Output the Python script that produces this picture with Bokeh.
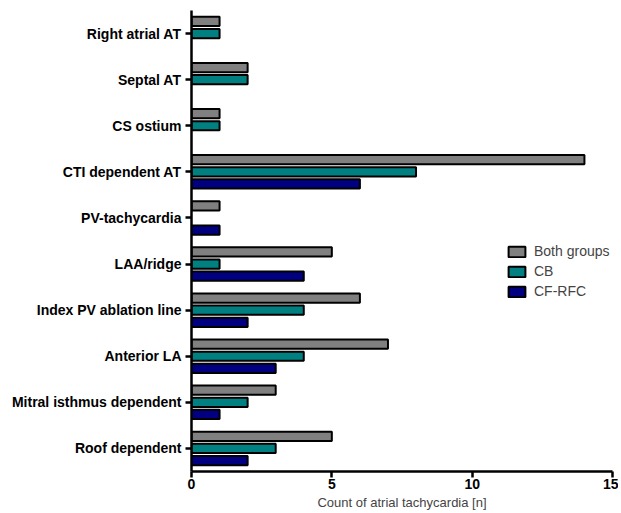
from bokeh.plotting import figure
from bokeh.models import ColumnDataSource, FactorRange, Legend, LegendItem
from bokeh.transform import dodge
from bokeh.embed import file_html
from bokeh.resources import INLINE

categories = ["Right atrial AT", "Septal AT", "CS ostium", "CTI dependent AT", "PV-tachycardia",
              "LAA/ridge", "Index PV ablation line", "Anterior LA", "Mitral isthmus dependent", "Roof dependent"]
both_groups = [1, 2, 1, 14, 1, 5, 6, 7, 3, 5]
cb = [1, 2, 1, 8, 0, 1, 4, 4, 2, 3]
cf_rfc = [0, 0, 0, 6, 1, 4, 2, 3, 1, 2]
series_names = ["Both groups", "CB", "CF-RFC"]
colors = ["#808080", "#008080", "#000080"]
x_ticks = [0, 5, 10, 15]

FONT = "Liberation Sans"

p = figure(width=618, height=512, y_range=FactorRange(*reversed(categories)),
           x_range=(0, 15), output_backend="svg", toolbar_location=None,
           min_border_left=191, min_border_right=6, min_border_top=10, min_border_bottom=40)
p.y_range.range_padding = 0
p.outline_line_color = None
p.grid.grid_line_color = None

offsets = [0.263, 0.0, -0.263]
renderers = []
for name, vals, col, off in zip(series_names, [both_groups, cb, cf_rfc], colors, offsets):
    cats = [c for c, v in zip(categories, vals) if v > 0]
    vs = [v for v in vals if v > 0]
    src = ColumnDataSource(dict(cat=cats, val=vs))
    r = p.hbar(y=dodge("cat", off, range=p.y_range), right="val", left=0, height=0.2,
               source=src, fill_color=col, line_color="black", line_width=2)
    renderers.append(r)

legend = Legend(items=[LegendItem(label=n, renderers=[r]) for n, r in zip(series_names, renderers)],
                location=(315, 172), background_fill_alpha=0, border_line_color=None,
                label_text_font=FONT, label_text_font_size="14px", glyph_width=21, glyph_height=13,
                label_height=14, spacing=4, padding=0, margin=0, label_standoff=7)
p.add_layout(legend, "center")

p.xaxis.ticker = x_ticks
p.xaxis.axis_label = "Count of atrial tachycardia [n]"
p.xaxis.axis_label_text_font = FONT
p.xaxis.axis_label_text_font_style = "normal"
p.xaxis.axis_label_text_font_size = "13px"
p.xaxis.axis_label_standoff = 3
for ax in [p.xaxis[0], p.yaxis[0]]:
    ax.axis_line_width = 2.5
    ax.axis_line_color = "black"
    ax.major_tick_line_width = 2.5
    ax.major_tick_line_color = "black"
    ax.major_tick_out = 6
    ax.major_tick_in = 0
    ax.minor_tick_line_color = None
    ax.major_label_text_font = FONT
    ax.major_label_text_font_style = "bold"
    ax.major_label_text_font_size = "14px"
    ax.major_label_text_color = "black"
p.yaxis.major_label_standoff = 4
p.xaxis.major_label_standoff = 1

open("out.html", "w").write(file_html(p, INLINE))
